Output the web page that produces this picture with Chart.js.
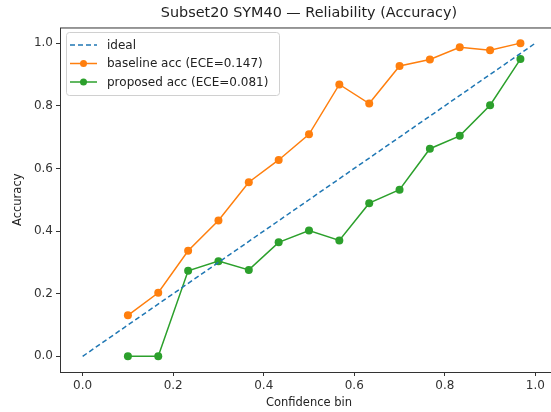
<!DOCTYPE html>
<html>
<head>
<meta charset="utf-8">
<script src="https://cdn.jsdelivr.net/npm/chart.js@4"></script>
<style>
  html, body { margin: 0; padding: 0; background: #fff; overflow: hidden; }
  /* o eixo da figura original foi cortado na direita, por isso o canvas e mais largo que a janela */
  #wrap { width: 562px; height: 412px; }
</style>
</head>
<body>
<div id="wrap"><canvas id="grafico"></canvas></div>
<script>
const binCenters = [0.1, 0.167, 0.233, 0.3, 0.367, 0.433, 0.5, 0.567, 0.633, 0.7, 0.767, 0.833, 0.9, 0.967];
const baselineAcc = [0.131, 0.203, 0.337, 0.434, 0.556, 0.627, 0.709, 0.868, 0.807, 0.927, 0.948, 0.987, 0.977, 1.0];
const proposedAcc = [0.0, 0.0, 0.273, 0.304, 0.276, 0.364, 0.402, 0.370, 0.489, 0.532, 0.663, 0.704, 0.802, 0.949];
const idealX = [0, 1];
const tickValues = [0, 0.2, 0.4, 0.6, 0.8, 1.0];

const FONT = 'DejaVu Sans';

const pontos = (xs, ys) => xs.map((x, i) => ({x: x, y: ys[i]}));

// moldura do grafico + legenda dentro da area
const molduraPlugin = {
  id: 'moldura',
  afterDraw(chart) {
    const ctx = chart.ctx;
    const a = chart.chartArea;
    ctx.save();
    ctx.strokeStyle = '#333';
    ctx.lineWidth = 1;
    ctx.strokeRect(a.left + 0.5, a.top + 0.5, a.right - a.left - 1, a.bottom - a.top);

    // legenda
    const bx = 66, by = 32, bw = 213, bh = 63;
    ctx.fillStyle = 'rgba(255,255,255,0.8)';
    ctx.strokeStyle = '#d0d0d0';
    ctx.lineWidth = 1;
    ctx.beginPath();
    ctx.roundRect(bx + 0.5, by + 0.5, bw, bh, 3);
    ctx.fill();
    ctx.stroke();

    ctx.font = '12px ' + FONT;
    ctx.textBaseline = 'middle';
    const linhas = [45, 63.5, 82];
    chart.data.datasets.forEach((ds, i) => {
      const y = linhas[i];
      ctx.strokeStyle = ds.borderColor;
      ctx.lineWidth = 1.5;
      ctx.setLineDash(ds.borderDash || []);
      ctx.beginPath();
      ctx.moveTo(70, y);
      ctx.lineTo(97, y);
      ctx.stroke();
      ctx.setLineDash([]);
      if (ds.pointRadius > 0) {
        ctx.fillStyle = ds.backgroundColor;
        ctx.beginPath();
        ctx.arc(83.5, y, 3.5, 0, Math.PI * 2);
        ctx.fill();
      }
      ctx.fillStyle = '#222';
      ctx.fillText(ds.label, 107, y + 0.5);
    });
    ctx.restore();
  }
};

new Chart(document.getElementById('grafico'), {
  type: 'line',
  data: {
    datasets: [{
      label: 'ideal',
      data: pontos(idealX, idealX),
      borderColor: '#1f77b4',
      backgroundColor: '#1f77b4',
      borderWidth: 1.5,
      borderDash: [5, 3],
      pointRadius: 0
    },
    {
      label: 'baseline acc (ECE=0.147)',
      data: pontos(binCenters, baselineAcc),
      borderColor: '#ff7f0e',
      backgroundColor: '#ff7f0e',
      borderWidth: 1.5,
      pointRadius: 4,
      pointBorderWidth: 0
    },
    {
      label: 'proposed acc (ECE=0.081)',
      data: pontos(binCenters, proposedAcc),
      borderColor: '#2ca02c',
      backgroundColor: '#2ca02c',
      borderWidth: 1.5,
      pointRadius: 4,
      pointBorderWidth: 0
    }]
  },
  options: {
    responsive: true,
    maintainAspectRatio: false,
    animation: false,
    layout: { padding: { right: 1, left: 0, top: 0, bottom: 0 } },
    plugins: {
      legend: { display: false },
      tooltip: { enabled: false },
      title: {
        display: true,
        fullSize: false,
        text: 'Subset20 SYM40 — Reliability (Accuracy)',
        color: '#222',
        font: { family: FONT, size: 14.4, weight: 'normal' },
        padding: { top: 4.8, bottom: 5.4 }
      }
    },
    scales: {
      x: {
        type: 'linear',
        min: -0.05,
        max: 1.05,
        afterBuildTicks: s => { s.ticks = tickValues.map(v => ({value: v})); },
        afterFit: s => { s.height = 40; },
        ticks: {
          color: '#333',
          font: { family: FONT, size: 12 },
          padding: 3,
          maxRotation: 0,
          callback: v => v.toFixed(1)
        },
        grid: { display: true, drawOnChartArea: false, drawTicks: true, tickLength: 4, color: '#333' },
        border: { display: false },
        title: {
          display: true,
          text: 'Confidence bin',
          color: '#222',
          font: { family: FONT, size: 11.5 },
          padding: { top: 2, bottom: 1.8 }
        }
      },
      y: {
        type: 'linear',
        min: -0.05,
        max: 1.05,
        afterBuildTicks: s => { s.ticks = tickValues.map(v => ({value: v})); },
        afterFit: s => { s.width = 60; },
        ticks: {
          color: '#333',
          font: { family: FONT, size: 12 },
          padding: 3,
          callback: v => v.toFixed(1)
        },
        grid: { display: true, drawOnChartArea: false, drawTicks: true, tickLength: 4, color: '#333' },
        border: { display: false },
        title: {
          display: true,
          text: 'Accuracy',
          color: '#222',
          font: { family: FONT, size: 11.5 },
          padding: { top: 10.8, bottom: 4 }
        }
      }
    }
  },
  plugins: [molduraPlugin]
});
</script>
</body>
</html>
